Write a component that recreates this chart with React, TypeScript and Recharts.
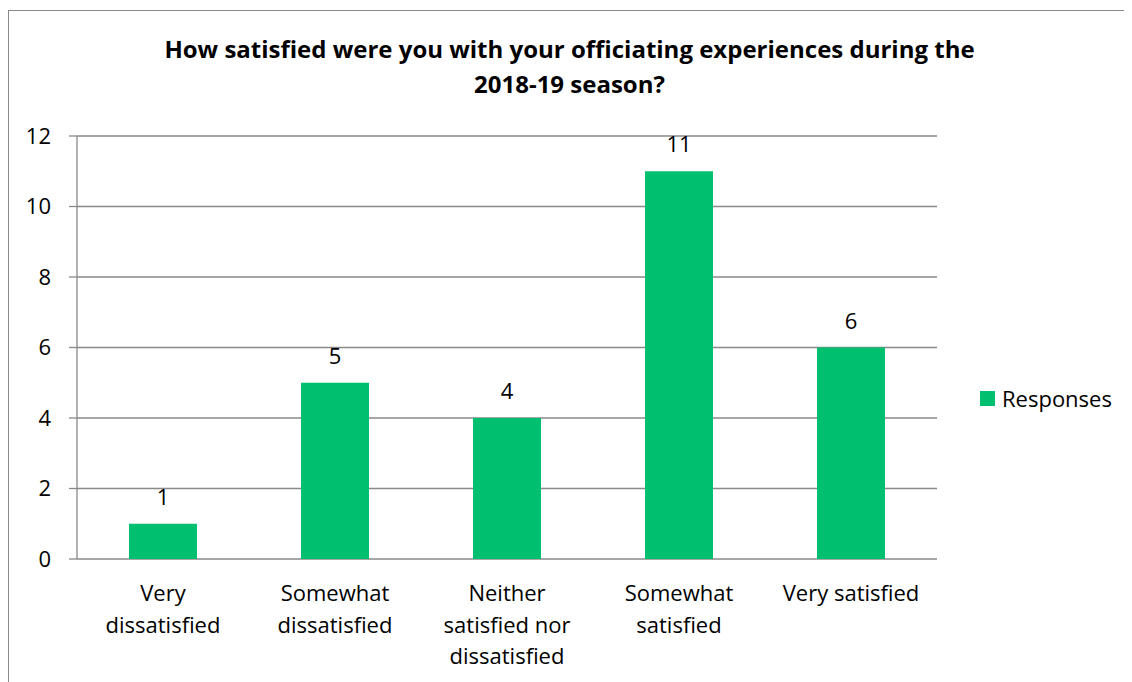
import { BarChart, Bar, XAxis, YAxis, CartesianGrid, Legend, LabelList } from 'recharts';

const categories = ['Very dissatisfied', 'Somewhat dissatisfied', 'Neither satisfied nor dissatisfied', 'Somewhat satisfied', 'Very satisfied'];
// how each category label wraps under the axis
const categoryLines = [
  ['Very', 'dissatisfied'],
  ['Somewhat', 'dissatisfied'],
  ['Neither', 'satisfied nor', 'dissatisfied'],
  ['Somewhat', 'satisfied'],
  ['Very satisfied'],
];
const responses = [1, 5, 4, 11, 6];
const yTicks = [0, 2, 4, 6, 8, 10, 12];
const boundaryTicks = [0, 1, 2, 3, 4, 5];
const titleLines = ['How satisfied were you with your officiating experiences during the', '2018-19 season?'];

const data = categories.map((name, i) => ({ name, lines: categoryLines[i], Responses: responses[i] }));

const FONT = '"Open Sans", Lato, sans-serif';
const GRID = '#898989';
const GREEN = '#00BF6F';

const CategoryTick = ({ x, y, index }: any) => {
  const lines = categoryLines[index] || [];
  return (
    <text x={x} y={y} textAnchor="middle" fontFamily={FONT} fontSize={22} fill="#000">
      {lines.map((line, i) => (
        <tspan key={i} x={x} dy={i === 0 ? 42 : 31.5}>{line}</tspan>
      ))}
    </text>
  );
};

const LegendContent = ({ payload }: any) => (
  <div style={{ display: 'flex', alignItems: 'center', height: 22, fontFamily: FONT, fontSize: 22, color: '#000' }}>
    {(payload || []).map((p: any) => (
      <div key={p.value} style={{ display: 'flex', alignItems: 'center' }}>
        <span style={{ display: 'inline-block', width: 15, height: 15, background: GREEN, marginRight: 7 }} />
        <span>{p.value}</span>
      </div>
    ))}
  </div>
);

const App = () => {
  return (
    <div
      style={{
        position: 'relative',
        width: 1124,
        height: 672,
        marginTop: 2,
        borderLeft: `1px solid ${GRID}`,
        borderTop: `1px solid ${GRID}`,
        boxSizing: 'border-box',
        overflow: 'hidden',
        background: '#fff',
      }}
    >
      <div
        style={{
          position: 'absolute',
          left: 0,
          top: 20,
          width: 1121,
          textAlign: 'center',
          fontFamily: FONT,
          fontWeight: 700,
          fontSize: 24,
          lineHeight: '35px',
          color: '#000',
        }}
      >
        {titleLines.map((t) => (
          <div key={t}>{t}</div>
        ))}
      </div>
      <BarChart
        width={1123}
        height={671}
        data={data}
        margin={{ top: 125, right: 45, left: 0, bottom: 0 }}
        style={{ position: 'absolute', left: 0, top: 0 }}
      >
        <CartesianGrid vertical={false} stroke={GRID} strokeWidth={1.3} />
        <XAxis
          xAxisId="bounds"
          type="number"
          domain={[0, 5]}
          ticks={boundaryTicks}
          height={0}
          tick={false}
          tickSize={8}
          stroke={GRID}
          axisLine={{ stroke: GRID, strokeWidth: 1.3 }}
          tickLine={{ stroke: GRID, strokeWidth: 1.3 }}
        />
        <XAxis
          dataKey="name"
          height={123}
          axisLine={false}
          tickLine={false}
          tickSize={0}
          tickMargin={0}
          interval={0}
          tick={<CategoryTick />}
        />
        <YAxis
          width={68}
          domain={[0, 12]}
          ticks={yTicks}
          tickSize={8}
          tickMargin={18}
          axisLine={{ stroke: GRID, strokeWidth: 1.3 }}
          tickLine={{ stroke: GRID, strokeWidth: 1.3 }}
          tick={{ fontFamily: FONT, fontSize: 22, fill: '#000' }}
        />
        <Legend
          layout="horizontal"
          verticalAlign="middle"
          align="right"
          content={<LegendContent />}
          wrapperStyle={{ position: 'absolute', left: 971, top: 376, width: 150 }}
        />
        <Bar dataKey="Responses" fill={GREEN} barSize={68} isAnimationActive={false}>
          <LabelList
            dataKey="Responses"
            position="top"
            offset={19}
            style={{ fontFamily: FONT, fontSize: 22, fill: '#000' }}
          />
        </Bar>
      </BarChart>
    </div>
  );
};

export default App;
